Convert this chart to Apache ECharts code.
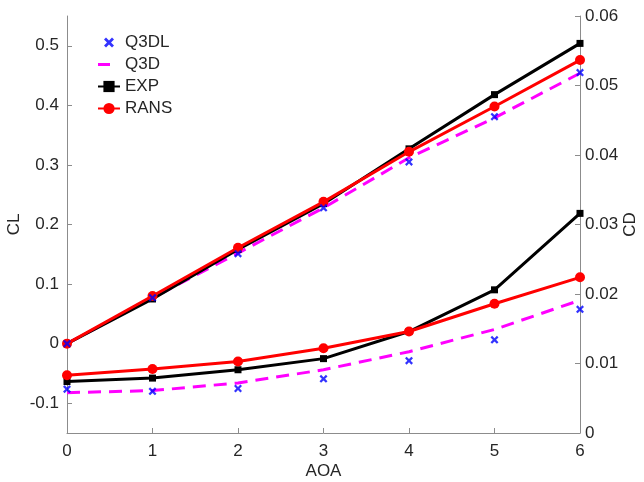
<!DOCTYPE html>
<html><head><meta charset="utf-8">
<script src="https://cdn.jsdelivr.net/npm/echarts@6/dist/echarts.min.js"></script>
<style>html,body{margin:0;padding:0;background:#fff}#c{width:644px;height:482px}</style>
</head><body><div id="c"></div>
<script>
const aoa = [0, 1, 2, 3, 4, 5, 6];
const clTicks = [-0.1, 0, 0.1, 0.2, 0.3, 0.4, 0.5];
const q3dlCL = [0, 0.077, 0.151, 0.228, 0.305, 0.381, 0.455];
const q3dCL  = [0, 0.077, 0.152, 0.228, 0.312, 0.379, 0.454];
const expCL  = [0, 0.075, 0.158, 0.235, 0.327, 0.418, 0.504];
const ransCL = [0, 0.080, 0.161, 0.238, 0.322, 0.398, 0.476];
const q3dlCD = [0.0063, 0.0060, 0.0064, 0.0078, 0.0104, 0.0134, 0.0178];
const q3dCD  = [0.0058, 0.0061, 0.0072, 0.0091, 0.0117, 0.0149, 0.0191];
const expCD  = [0.0074, 0.0079, 0.0091, 0.0107, 0.0146, 0.0206, 0.0316];
const ransCD = [0.0083, 0.0092, 0.0103, 0.0122, 0.0146, 0.0186, 0.0224];

const pair = (ys) => aoa.map((x, i) => [x, ys[i]]);
const XPATH = 'M0,2 L2,0 L5,3 L8,0 L10,2 L7,5 L10,8 L8,10 L5,7 L2,10 L0,8 L3,5 Z';
const X = 'path://' + XPATH;
const XLEG = 'path://M-2,-2 M12,12 ' + XPATH;
const DASHLEG = 'path://M0,0 M22,14 M0,5.5 L12,5.5 L12,8.5 L0,8.5 Z';
const font = 'Liberation Sans, Arial, sans-serif';
const txt = '#262626';
const axisGray = '#8c8c8c';

function mk(name, data, yi, kind) {
  const s = { name, type: 'line', data: pair(data), yAxisIndex: yi, animation: false };
  if (kind === 'q3dl') {
    Object.assign(s, { type: 'scatter', symbol: X, symbolSize: 8, itemStyle: { color: '#0000ff' }, z: 5 });
  } else if (kind === 'q3d') {
    Object.assign(s, { symbol: 'none', lineStyle: { color: '#ff00ff', width: 3, type: [13, 8] }, itemStyle: { color: '#ff00ff' }, z: 2 });
  } else if (kind === 'exp') {
    Object.assign(s, { symbol: 'rect', symbolSize: 7, lineStyle: { color: '#000', width: 3 }, itemStyle: { color: '#000' }, z: 3 });
  } else {
    Object.assign(s, { symbol: 'circle', symbolSize: 10, lineStyle: { color: '#ff0000', width: 3 }, itemStyle: { color: '#ff0000' }, z: 4 });
  }
  return s;
}

const chart = echarts.init(document.getElementById('c'), null, { renderer: 'canvas' });
chart.setOption({
  backgroundColor: '#fff',
  textStyle: { fontFamily: font },
  grid: { left: 67, right: 64, top: 16, bottom: 49, containLabel: false, outerBoundsMode: 'none' },
  legend: {
    orient: 'vertical', left: 97, top: 34, padding: 0, itemGap: 5, itemWidth: 22, itemHeight: 14,
    textStyle: { fontSize: 17, color: txt, fontFamily: font },
    data: [
      { name: 'Q3DL', icon: XLEG, itemStyle: { color: '#0000ff' } },
      { name: 'Q3D', icon: DASHLEG, itemStyle: { color: '#ff00ff' } },
      { name: 'EXP' },
      { name: 'RANS' }
    ]
  },
  xAxis: {
    type: 'value', min: 0, max: 6, interval: 1, name: 'AOA', nameLocation: 'middle', nameGap: 30,
    nameMoveOverlap: false,
    nameTextStyle: { fontSize: 17, color: txt },
    axisLine: { onZero: false, lineStyle: { color: axisGray, width: 1 } },
    axisTick: { inside: true, length: 5, lineStyle: { color: axisGray } },
    axisLabel: { fontSize: 17, color: txt, margin: 10 },
    splitLine: { show: false }
  },
  yAxis: [
    {
      type: 'value', min: -0.15, max: 0.55, name: 'CL', nameLocation: 'middle', nameGap: 44,
      nameMoveOverlap: false,
      nameTextStyle: { fontSize: 17, color: txt },
      axisLine: { show: true, onZero: false, lineStyle: { color: axisGray } },
      axisTick: { show: true, inside: true, length: 5, lineStyle: { color: axisGray }, customValues: clTicks },
      axisLabel: { fontSize: 17, color: txt, margin: 8, customValues: clTicks,
        formatter: v => { const r = Math.round(v * 10) / 10; return r === 0 ? '0' : String(r); } },
      splitLine: { show: false }
    },
    {
      type: 'value', min: 0, max: 0.06, interval: 0.01, name: 'CD', nameLocation: 'middle', nameGap: 42,
      nameMoveOverlap: false,
      nameTextStyle: { fontSize: 17, color: txt },
      position: 'right',
      axisLine: { show: true, onZero: false, lineStyle: { color: axisGray } },
      axisTick: { show: true, inside: true, length: 5, lineStyle: { color: axisGray } },
      axisLabel: { fontSize: 17, color: txt, margin: 5, formatter: v => v === 0 ? '0' : v.toFixed(2) },
      splitLine: { show: false }
    }
  ],
  series: [
    mk('Q3D', q3dCL, 0, 'q3d'),
    mk('EXP', expCL, 0, 'exp'),
    mk('RANS', ransCL, 0, 'rans'),
    mk('Q3DL', q3dlCL, 0, 'q3dl'),
    mk('Q3D', q3dCD, 1, 'q3d'),
    mk('EXP', expCD, 1, 'exp'),
    mk('RANS', ransCD, 1, 'rans'),
    mk('Q3DL', q3dlCD, 1, 'q3dl')
  ]
});
</script></body></html>
